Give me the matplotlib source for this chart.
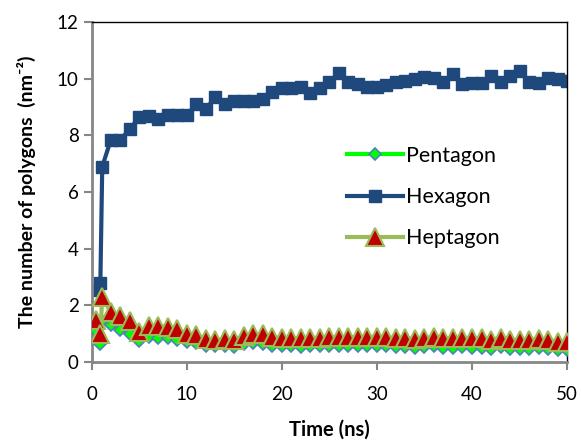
import matplotlib
matplotlib.use("Agg")
import matplotlib.pyplot as plt

plt.rcParams['font.family'] = ['Lato', 'DejaVu Sans']

# time points (ns)
time = [0.4, 0.9, 1.1] + list(range(2, 51))

pentagon = [1.1, 0.65, 1.45, 1.3, 1.12, 0.98, 0.75, 0.88, 0.85, 0.85, 0.78, 0.7,
            0.66, 0.56, 0.55, 0.56, 0.53, 0.63, 0.66, 0.64, 0.58, 0.56, 0.55, 0.54,
            0.55, 0.55, 0.56, 0.56, 0.56, 0.55, 0.58, 0.56, 0.55, 0.53, 0.53, 0.5,
            0.53, 0.55, 0.51, 0.5, 0.53, 0.5, 0.5, 0.46, 0.52, 0.47, 0.46, 0.46,
            0.48, 0.46, 0.42, 0.42]

hexagon = [2.55, 2.8, 6.9, 7.84, 7.84, 8.22, 8.65, 8.68, 8.58, 8.72, 8.72, 8.72,
           9.1, 8.93, 9.35, 9.1, 9.2, 9.2, 9.2, 9.3, 9.54, 9.66, 9.66, 9.72,
           9.51, 9.66, 9.9, 10.19, 9.9, 9.83, 9.72, 9.72, 9.78, 9.9, 9.93, 9.99,
           10.07, 10.03, 9.9, 10.17, 9.81, 9.85, 9.85, 10.1, 9.9, 10.1, 10.28, 9.9,
           9.85, 10.02, 10.0, 9.93]

heptagon = [1.47, 1.0, 2.3, 1.76, 1.62, 1.46, 1.07, 1.27, 1.27, 1.25, 1.16, 0.99,
            0.96, 0.81, 0.78, 0.81, 0.78, 0.93, 0.98, 0.98, 0.87, 0.85, 0.85, 0.83,
            0.85, 0.85, 0.87, 0.87, 0.87, 0.87, 0.9, 0.87, 0.87, 0.85, 0.85, 0.8,
            0.85, 0.88, 0.83, 0.83, 0.86, 0.83, 0.83, 0.78, 0.86, 0.78, 0.78, 0.78,
            0.81, 0.78, 0.72, 0.72]

fig = plt.figure(figsize=(5.81, 4.42), dpi=100)
ax = fig.add_axes([0.158, 0.181, 0.818, 0.769])

ax.plot(time, hexagon, color='#1F497D', lw=3, marker='s', ms=9,
        mfc='#1F497D', mec='#1F497D', label='Hexagon', zorder=2)
ax.plot(time, pentagon, color='#00FF00', lw=3, marker='D', ms=6.5,
        mfc='#00FF00', mec='#4F81BD', mew=1.2, label='Pentagon', zorder=3)
ax.plot(time, heptagon, color='#9BBB59', lw=3, marker='^', ms=13,
        mfc='#C00000', mec='#9BBB59', mew=1.5, label='Heptagon', zorder=4)

ax.set_xlim(0, 50)
ax.set_ylim(0, 12)
ax.set_xticks([0, 10, 20, 30, 40, 50])
ax.set_yticks([0, 2, 4, 6, 8, 10, 12])

for s in ['left', 'bottom']:
    ax.spines[s].set_color('#868686')
    ax.spines[s].set_linewidth(2)
for s in ['top', 'right']:
    ax.spines[s].set_color('black')
    ax.spines[s].set_linewidth(1)
ax.tick_params(axis='both', direction='out', length=6, width=1.5,
               color='#868686', labelsize=13.5)
ax.tick_params(axis='x', pad=11)

ax.set_xlabel('Time (ns)', fontsize=14.5, fontweight='bold', labelpad=12)
ax.set_ylabel('The number of polygons  (nm\u207b\u00b2)', fontsize=14,
              fontweight='bold', labelpad=15)

handles, labels = ax.get_legend_handles_labels()
order = [1, 0, 2]
ax.legend([handles[i] for i in order], [labels[i] for i in order],
          loc='upper left', bbox_to_anchor=(347 / 581, 1 - 146 / 442),
          bbox_transform=fig.transFigure, borderpad=0, borderaxespad=0,
          frameon=False, fontsize=15.5, handlelength=2.6, labelspacing=0.98,
          handletextpad=0.15)

fig.savefig('out.png', dpi=100)
